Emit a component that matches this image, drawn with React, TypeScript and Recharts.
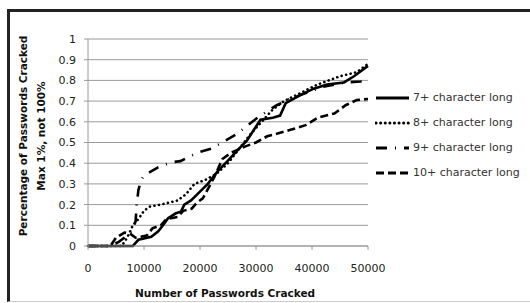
import { LineChart, Line, XAxis, YAxis, CartesianGrid } from 'recharts'

// passwords cracked (x) and share cracked (y)
const crackedX7 = [0, 8000, 8500, 9000, 11300, 12500, 13400, 14300, 15700, 16600, 17200, 18400, 19900, 21400, 23100, 24900, 26600, 28400, 29600, 30800, 33000, 34300, 35300, 38000, 40300, 42700, 45700, 47500, 50000]
const share7 = [0, 0, 0.015, 0.03, 0.045, 0.07, 0.1, 0.134, 0.158, 0.166, 0.2, 0.22, 0.26, 0.3, 0.36, 0.41, 0.46, 0.51, 0.56, 0.61, 0.62, 0.63, 0.69, 0.73, 0.76, 0.78, 0.79, 0.82, 0.87]

const crackedX8 = [0, 6000, 7000, 8000, 9000, 10000, 11000, 13000, 16000, 17500, 19000, 21000, 23000, 25000, 27000, 29000, 31000, 33000, 35000, 38000, 41000, 45000, 48000, 50000]
const share8 = [0, 0, 0.04, 0.1, 0.13, 0.17, 0.19, 0.2, 0.22, 0.25, 0.3, 0.32, 0.35, 0.4, 0.47, 0.54, 0.6, 0.66, 0.7, 0.74, 0.78, 0.82, 0.84, 0.88]

const crackedX9 = [0, 4000, 5500, 7000, 8000, 8500, 8700, 9000, 9500, 10000, 12500, 15000, 16500, 18300, 20000, 22000, 24000, 26500, 28400, 30500, 33700, 36000, 38000, 42000, 46000, 48700, 50000]
const share9 = [0, 0, 0.02, 0.05, 0.08, 0.12, 0.2, 0.27, 0.32, 0.34, 0.38, 0.405, 0.41, 0.435, 0.455, 0.47, 0.5, 0.54, 0.58, 0.625, 0.68, 0.71, 0.73, 0.77, 0.79, 0.795, 0.8]

const crackedX10 = [0, 4000, 5000, 6500, 7500, 8500, 10500, 11500, 13000, 14000, 16000, 17000, 18500, 19500, 20500, 21500, 22500, 24000, 25500, 28000, 30000, 32000, 34000, 36000, 39000, 41000, 44000, 46000, 48000, 50000]
const share10 = [0, 0, 0.04, 0.065, 0.06, 0.04, 0.05, 0.085, 0.1, 0.13, 0.14, 0.17, 0.18, 0.21, 0.23, 0.28, 0.33, 0.42, 0.45, 0.48, 0.5, 0.53, 0.545, 0.56, 0.585, 0.62, 0.64, 0.68, 0.705, 0.71]

const xTicks = [0, 10000, 20000, 30000, 40000, 50000]
const yTicks = [0, 0.1, 0.2, 0.3, 0.4, 0.5, 0.6, 0.7, 0.8, 0.9, 1]

const toPoints = (xs: number[], ys: number[]) => xs.map((x, i) => ({ x, y: ys[i] }))

const series = [
  { name: '7+ character long', data: toPoints(crackedX7, share7), dash: undefined, cap: 'butt' },
  { name: '8+ character long', data: toPoints(crackedX8, share8), dash: '0.1 4.5', cap: 'round' },
  { name: '9+ character long', data: toPoints(crackedX9, share9), dash: '11 8 1 8', cap: 'butt' },
  { name: '10+ character long', data: toPoints(crackedX10, share10), dash: '8 4', cap: 'butt' },
]

const font = 'DejaVu Sans, sans-serif'
const grid = '#9a9a9a'

function LegendBox() {
  return (
    <div style={{ position: 'absolute', left: 375, top: 85, fontFamily: font, fontSize: 11, color: '#333' }}>
      {series.map((s) => (
        <div key={s.name} style={{ display: 'flex', alignItems: 'center', height: 25 }}>
          <svg width={36} height={8} style={{ marginRight: 2 }}>
            <line
              x1={1}
              y1={4}
              x2={34}
              y2={4}
              stroke="#000"
              strokeWidth={3}
              strokeDasharray={s.dash}
              strokeLinecap={s.cap as 'butt' | 'round'}
            />
          </svg>
          <span>{s.name}</span>
        </div>
      ))}
    </div>
  )
}

export default function App() {
  return (
    <div style={{ position: 'absolute', left: 0, top: 0, width: 530, height: 303, background: '#fff', overflow: 'hidden' }}>
      <div
        style={{
          position: 'absolute',
          left: 7,
          top: 9,
          width: 540,
          height: 293,
          boxSizing: 'border-box',
          borderTop: '3px solid #222',
          borderLeft: '3px solid #222',
          borderBottom: '1px solid #ccc',
        }}
      />
      <div style={{ position: 'absolute', left: 0, top: 0 }}>
        <LineChart width={530} height={303} margin={{ top: 39, right: 162, bottom: 0, left: 0 }}>
          <CartesianGrid vertical={false} stroke={grid} strokeWidth={1} />
          <XAxis
            type="number"
            dataKey="x"
            domain={[0, 50000]}
            ticks={xTicks}
            interval={0}
            height={57}
            tickSize={4}
            tickMargin={14}
            stroke={grid}
            tick={{ fill: '#222', fontSize: 11, fontFamily: font }}
            allowDuplicatedCategory={false}
          />
          <YAxis
            type="number"
            dataKey="y"
            domain={[0, 1]}
            ticks={yTicks}
            interval={0}
            width={88}
            tickSize={4}
            tickMargin={8}
            stroke={grid}
            tick={{ fill: '#222', fontSize: 11, fontFamily: font }}
          />
          {series.map((s) => (
            <Line
              key={s.name}
              data={s.data}
              dataKey="y"
              name={s.name}
              type="linear"
              stroke="#000"
              strokeWidth={2.6}
              strokeDasharray={s.dash}
              strokeLinecap={s.cap as 'butt' | 'round'}
              dot={false}
              isAnimationActive={false}
            />
          ))}
        </LineChart>
      </div>
      <LegendBox />
      <svg width={530} height={303} style={{ position: 'absolute', left: 0, top: 0, pointerEvents: 'none' }}>
        <g fontFamily={font} fontWeight="bold" fontSize={10.5} fill="#111" textAnchor="middle">
          <text x={225} y={297}>Number of Passwords Cracked</text>
          <text x={27} y={136} transform="rotate(-90 27 136)">Percentage of Passwords Cracked</text>
          <text x={45} y={136} transform="rotate(-90 45 136)">Max 1%, not 100%</text>
        </g>
      </svg>
    </div>
  )
}
